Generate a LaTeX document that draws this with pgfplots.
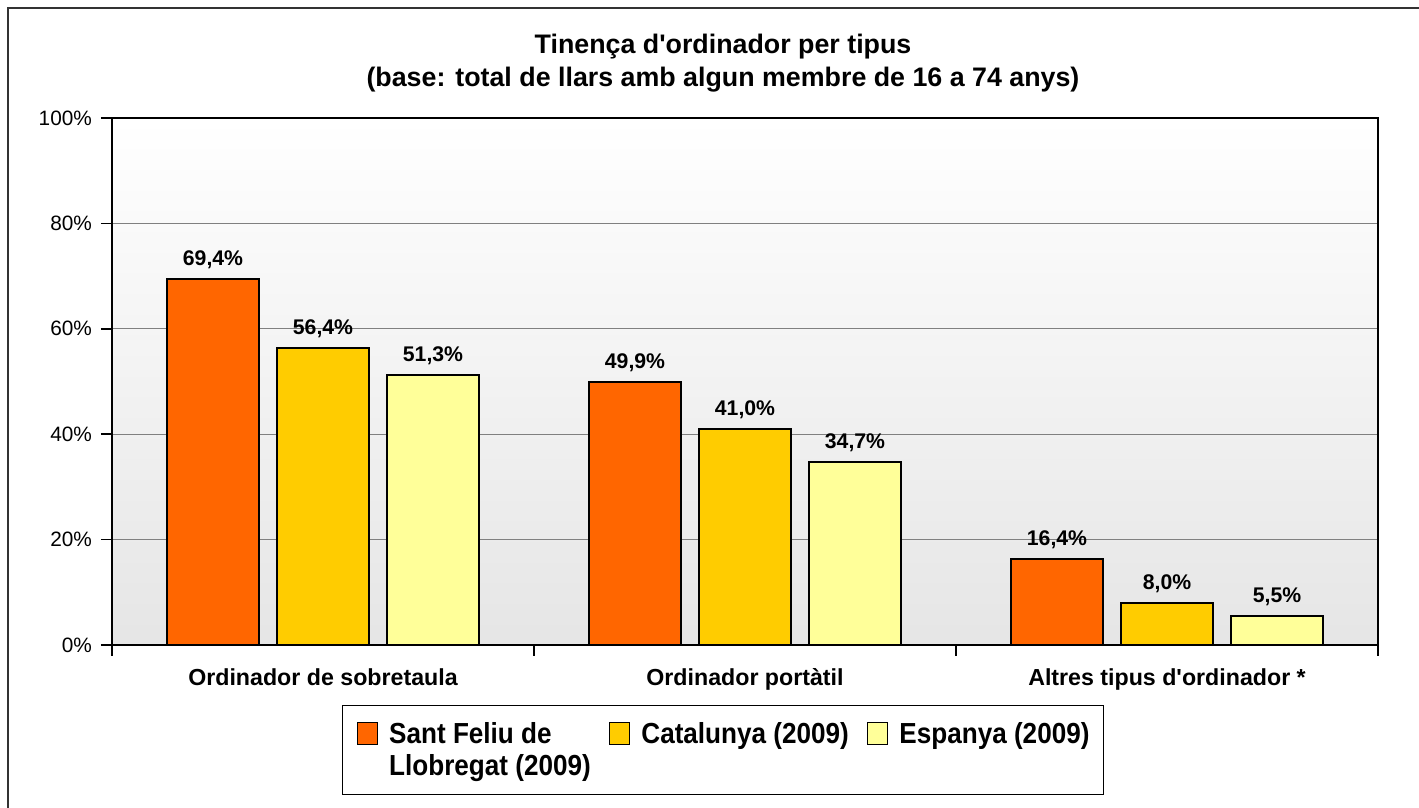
\documentclass[border=0pt]{standalone}
\usepackage{pgfplots}
\pgfplotsset{compat=1.18}
\usepackage{fontspec}
\setmainfont{Liberation Sans}[Ligatures=TeXOff]
\newfontfamily\legfont[FakeStretch=0.9,Ligatures=TeXOff]{Liberation Sans}
\definecolor{cOrange}{HTML}{FF6600}
\definecolor{cGold}{HTML}{FFCC00}
\definecolor{cYellow}{HTML}{FFFF99}
\begin{document}
\begin{tikzpicture}
\path[use as bounding box] (0pt,0pt) rectangle (709.5pt,404pt);
\draw[line width=1pt, black!80] (4pt,0pt) -- (4pt,400pt) -- (709.5pt,400pt);
\begin{axis}[
 at={(56pt,81.5pt)}, anchor=south west,
 width=633pt, height=263.5pt, scale only axis,
 ymin=0, ymax=100, xmin=-0.5, xmax=2.5,
 ybar=9pt, bar width=46pt,
 ytick={0,20,...,100},
 yticklabel={\pgfmathprintnumber{\tick}\%},
 xtick={-0.5,0.5,1.5,2.5},
 xticklabels={Ordinador de sobretaula,Ordinador portàtil,Altres tipus d'ordinador *,{}},
 xticklabel style={xshift=105.5pt, yshift=-2.5pt, text height=8.6pt, text depth=2.5pt, font=\bfseries\fontsize{11.6}{13}\selectfont},
 yticklabel style={xshift=-1pt, font=\fontsize{10.4}{12}\selectfont},
 tick align=outside, tick pos=left, major tick length=5.5pt,
 ymajorgrids, grid style={gray, line width=0.5pt},
 axis line style={line width=0.8pt},
 tick style={black, line width=0.8pt},
 /pgf/number format/assume math mode=true,
 axis background/.style={shade, top color=white, bottom color=black!10},
 nodes near coords={\pgfmathprintnumber[fixed,fixed zerofill,precision=1,use comma]{\pgfplotspointmeta}\%},
 every node near coord/.append style={font=\bfseries\fontsize{10.6}{12}\selectfont, inner sep=0pt, yshift=4.5pt, black},
 legend cell align=left,
 legend style={at={(axis description cs:0.1817,-0.1139)}, anchor=north west, legend columns=3, draw=black, line width=0.6pt,
   font=\legfont\bfseries\fontsize{14.5}{16}\selectfont, cells={anchor=north west}, nodes={align=left, inner sep=0pt},
   inner xsep=7pt, inner ysep=8pt,
   /tikz/every odd column/.append style={column sep=5.5pt},
   /tikz/every even column/.append style={column sep=9pt}},
 legend image code/.code={\draw[#1, draw=black, line width=0.8pt] (0pt,-11.2pt) rectangle (10pt,-0.2pt);},
]
\addplot[fill=cOrange, draw=black, line width=1pt] coordinates {(0,69.4) (1,49.9) (2,16.4)};
\addplot[fill=cGold, draw=black, line width=1pt] coordinates {(0,56.4) (1,41.0) (2,8.0)};
\addplot[fill=cYellow, draw=black, line width=1pt] coordinates {(0,51.3) (1,34.7) (2,5.5)};
\addlegendentry{Sant Feliu de\\Llobregat (2009)}
\addlegendentry{Catalunya (2009)}
\addlegendentry{Espanya (2009)}
\end{axis}
\node[font=\bfseries\fontsize{13.4}{16.5}\selectfont, align=center] at (361.5pt,372.5pt) {Tinença d'ordinador per tipus\\(base: total de llars amb algun membre de 16 a 74 anys)};
\end{tikzpicture}
\end{document}
